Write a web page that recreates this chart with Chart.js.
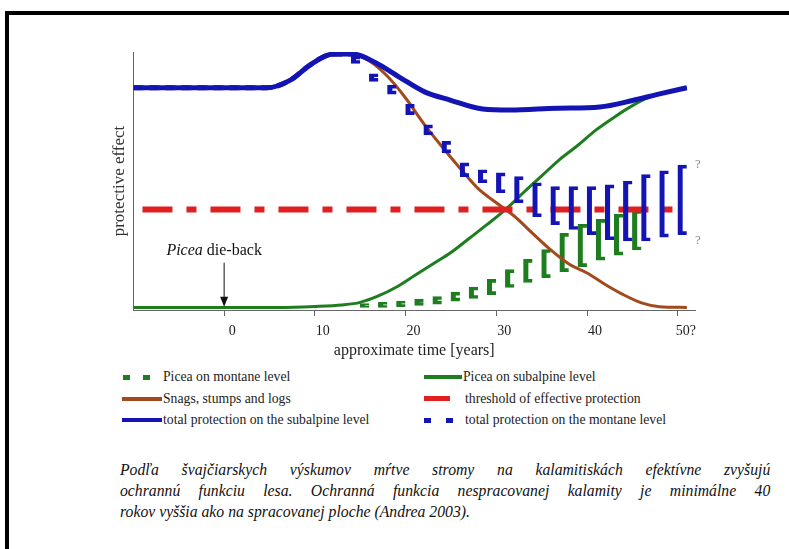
<!DOCTYPE html>
<html>
<head>
<meta charset="utf-8">
<script src="https://cdn.jsdelivr.net/npm/chart.js@4.4.1/dist/chart.umd.min.js"></script>
<style>
  body { margin: 0; width: 789px; height: 549px; background: #fff; overflow: hidden; position: relative; font-family: "Liberation Serif", "DejaVu Serif", serif; }
  #frame { position: absolute; left: 5px; top: 11px; right: -10px; bottom: -10px; border-top: 4px solid #000; border-left: 4px solid #000; }
  #wrap { position: absolute; left: 100px; top: 40px; width: 620px; height: 325px; }
  .lt { position: absolute; font-size: 13.7px; color: #222; line-height: 14px; white-space: nowrap; }
  .sw { position: absolute; }
  .cap { position: absolute; left: 120px; width: 703px; font-size: 17px; font-style: italic; color: #111; white-space: nowrap;
         transform: scaleX(0.925); transform-origin: 0 0; font-family: "Liberation Serif", "DejaVu Serif", serif; }
  .just { text-align: justify; text-align-last: justify; white-space: normal; }
</style>
</head>
<body>
<div id="frame"></div>
<div id="wrap"><canvas id="chart"></canvas></div>

<!-- legend -->
<div class="sw" style="left:123px;top:375px;width:7px;height:5px;background:#1e7d1e"></div>
<div class="sw" style="left:143px;top:375px;width:7px;height:5px;background:#1e7d1e"></div>
<div class="lt" style="left:163px;top:370px">Picea on montane level</div>
<div class="sw" style="left:424px;top:375px;width:38px;height:4px;background:#1e7d1e"></div>
<div class="lt" style="left:463px;top:370px">Picea on subalpine level</div>

<div class="sw" style="left:122px;top:397px;width:40px;height:4px;background:#a24a1e"></div>
<div class="lt" style="left:163px;top:392px">Snags, stumps and logs</div>
<div class="sw" style="left:424px;top:396px;width:26px;height:5px;background:#e02020"></div>
<div class="lt" style="left:465px;top:392px">threshold of effective protection</div>

<div class="sw" style="left:122px;top:418px;width:40px;height:4px;background:#1414b4"></div>
<div class="lt" style="left:163px;top:413px">total protection on the subalpine level</div>
<div class="sw" style="left:424px;top:418px;width:7px;height:5px;background:#1414b4"></div>
<div class="sw" style="left:446px;top:418px;width:7px;height:5px;background:#1414b4"></div>
<div class="lt" style="left:465px;top:413px">total protection on the montane level</div>

<!-- caption -->
<div class="cap just" style="top:460px">Podľa švajčiarskych výskumov mŕtve stromy na kalamitiskách efektívne zvyšujú</div>
<div class="cap just" style="top:481px">ochrannú funkciu lesa. Ochranná funkcia nespracovanej kalamity je minimálne 40</div>
<div class="cap" style="top:502px">rokov vyššia ako na spracovanej ploche (Andrea 2003).</div>

<script>
var SERIF = '"Liberation Serif", "DejaVu Serif", serif';

// x axis ticks
var xTicks = [0, 10, 20, 30, 40, 50];
var xTickLabels = ['0', '10', '20', '30', '40', '50?'];

// total protection on the subalpine level (solid blue)
var subalpineX = [-10, 4.7, 7.3, 9.5, 12, 14.2, 16.6, 19.4, 22.1, 24.9, 28.5, 31.5, 36.7, 41.4, 45, 48, 51];
var subalpineY = [86, 86, 89, 95, 99.2, 99.2, 96, 90, 84.4, 81.2, 77.7, 77.3, 78, 78.5, 81, 83.6, 86];

// snags, stumps and logs (brown)
var snagsX = [-10, 4.7, 7.3, 9.5, 12, 14, 16, 18, 20, 22, 24, 26, 28, 30, 32, 34, 36, 38, 40, 42, 44, 46, 48, 51];
var snagsY = [86, 86, 89, 95, 98.8, 99, 96.5, 90.5, 82, 72, 63, 54.5, 46.5, 41, 35.7, 29, 22.5, 17, 13.5, 9, 5, 1.8, 0.3, 0];

// Picea on subalpine level (solid green)
var piceaSubX = [-10, 6, 10, 13, 15, 17, 19, 21, 23, 25, 27, 29, 31, 33, 35, 37, 39, 41, 43, 45, 47, 49, 51];
var piceaSubY = [0, 0, 0.4, 1, 2, 4.5, 8, 12.5, 17, 21.5, 27, 32.5, 38.3, 45, 51.5, 58, 63.5, 69.5, 74.5, 79, 82.5, 84.5, 86];

// threshold of effective protection (red)
var thresholdX = [-9, 50];
var thresholdY = [38.3, 38.3];

// total protection on the montane level (blue dashes, then ranges)
var montaneLineX = [-10, 4.7, 7.3, 9.5, 12, 14.2];
var montaneLineY = [86, 86, 89, 95, 99.2, 99.2];
var montaneX = [15, 17, 19, 21, 23, 25, 27, 29, 31, 33, 35, 37, 39, 41, 43, 45, 47, 49, 51];
var montaneLow = [95.5, 88.5, 83.5, 75.5, 67.5, 60.5, 51.2, 48.8, 44.9, 41, 35.5, 32.4, 30.5, 28.5, 26.5, 26, 26, 27.5, 28.5];
var montaneHigh = [98.5, 91.5, 87, 79.5, 71.5, 65, 56.6, 53.9, 52.7, 51.2, 48.8, 47.3, 47.3, 47.3, 48, 49.5, 52, 53.5, 55.7];

// Picea on montane level (green dashes / ranges)
var piceaMonX = [15, 17, 19, 21, 23, 25, 27, 29, 31, 33, 35, 37, 39, 41, 43, 45];
var piceaMonLow = [0, 0, 0.3, 0.8, 1.3, 2.5, 3.5, 5, 7.8, 9.8, 11.7, 14, 16, 18.5, 20.5, 22.5];
var piceaMonHigh = [1.5, 2, 2.5, 3.3, 4.3, 6, 8, 11, 14.8, 18.8, 22.7, 29, 32.5, 34.5, 36.5, 38];

// annotations
var dieBack = { x: 0, yFrom: 17.5, yTo: 0.3, labelX: -1.1, labelY: 22 };
var questionMarks = [{ x: 51.9, y: 56 }, { x: 51.9, y: 26 }];

var BLUE = '#1414b4', GREEN = '#1e7d1e', BROWN = '#a24a1e', RED = '#e02020';

function pts(xs, ys) {
  return xs.map(function (x, i) { return { x: x, y: ys[i] }; });
}
function ranges(xs, lo, hi) {
  return xs.map(function (x, i) { return { x: x, y: [lo[i], hi[i]] }; });
}

var annotations = {
  id: 'annotations',
  afterDatasetsDraw: function (chart) {
    var ctx = chart.ctx, xs = chart.scales.x, ys = chart.scales.y;
    ctx.save();
    // die-back arrow
    var ax = xs.getPixelForValue(dieBack.x);
    var y1 = ys.getPixelForValue(dieBack.yFrom), y2 = ys.getPixelForValue(dieBack.yTo);
    ctx.strokeStyle = '#111';
    ctx.fillStyle = '#111';
    ctx.lineWidth = 1;
    ctx.beginPath();
    ctx.moveTo(ax, y1);
    ctx.lineTo(ax, y2 - 8);
    ctx.stroke();
    ctx.beginPath();
    ctx.moveTo(ax - 4, y2 - 10);
    ctx.lineTo(ax + 4, y2 - 10);
    ctx.lineTo(ax, y2);
    ctx.closePath();
    ctx.fill();
    // label, "Picea" in italics
    var lx = xs.getPixelForValue(dieBack.labelX), ly = ys.getPixelForValue(dieBack.labelY);
    ctx.textBaseline = 'middle';
    ctx.font = 'italic 16px ' + SERIF;
    var w1 = ctx.measureText('Picea ').width;
    ctx.font = '16px ' + SERIF;
    var w2 = ctx.measureText('die-back').width;
    var sx = lx - (w1 + w2) / 2;
    ctx.textAlign = 'left';
    ctx.font = 'italic 16px ' + SERIF;
    ctx.fillText('Picea ', sx, ly);
    ctx.font = '16px ' + SERIF;
    ctx.fillText('die-back', sx + w1, ly);
    // question marks
    ctx.fillStyle = '#888';
    ctx.font = '13px ' + SERIF;
    questionMarks.forEach(function (q) {
      ctx.fillText('?', xs.getPixelForValue(q.x), ys.getPixelForValue(q.y));
    });
    ctx.restore();
  }
};

var ctx = document.getElementById('chart').getContext('2d');

var myChart = new Chart(ctx, {
  type: 'line',
  data: {
    datasets: [
      {
        label: 'total protection on the subalpine level',
        data: pts(subalpineX, subalpineY),
        borderColor: BLUE, borderWidth: 5, order: 1
      },
      {
        label: 'total protection on the montane level',
        data: pts(montaneLineX, montaneLineY),
        borderColor: BLUE, borderWidth: 5, borderDash: [10, 6], order: 2
      },
      {
        type: 'bar',
        label: 'total protection on the montane level (range)',
        data: ranges(montaneX, montaneLow, montaneHigh),
        backgroundColor: 'rgba(0,0,0,0)', borderColor: BLUE,
        borderWidth: { left: 5, top: 3, bottom: 3, right: 0 }, borderSkipped: false,
        barThickness: 9, order: 3
      },
      {
        label: 'threshold of effective protection',
        data: pts(thresholdX, thresholdY),
        borderColor: RED, borderWidth: 6, borderDash: [30, 14, 10, 14], tension: 0, order: 4
      },
      {
        label: 'Snags, stumps and logs',
        data: pts(snagsX, snagsY),
        borderColor: BROWN, borderWidth: 3, order: 5
      },
      {
        label: 'Picea on subalpine level',
        data: pts(piceaSubX, piceaSubY),
        borderColor: GREEN, borderWidth: 3, order: 6
      },
      {
        type: 'bar',
        label: 'Picea on montane level',
        data: ranges(piceaMonX, piceaMonLow, piceaMonHigh),
        backgroundColor: 'rgba(0,0,0,0)', borderColor: GREEN,
        borderWidth: { left: 5, top: 3, bottom: 3, right: 0 }, borderSkipped: false,
        barThickness: 9, order: 7
      }
    ]
  },
  options: {
    responsive: true,
    maintainAspectRatio: false,
    animation: false,
    layout: { padding: { left: 5, right: 25, top: 12, bottom: 1 } },
    elements: {
      point: { radius: 0 },
      line: { cubicInterpolationMode: 'monotone', fill: false }
    },
    plugins: { legend: { display: false }, tooltip: { enabled: false } },
    scales: {
      x: {
        type: 'linear', min: -10, max: 51.9, offset: false,
        afterBuildTicks: function (axis) {
          axis.ticks = xTicks.map(function (v) { return { value: v }; });
        },
        ticks: {
          color: '#222', padding: 7, labelOffset: 8, maxRotation: 0,
          font: { family: SERIF, size: 14 },
          callback: function (v) { return xTickLabels[xTicks.indexOf(v)]; }
        },
        grid: { drawOnChartArea: false, drawTicks: true, tickLength: 6, color: '#666', offset: false },
        border: { color: '#666', width: 1 },
        title: {
          display: true, text: 'approximate time [years]', color: '#222',
          font: { family: SERIF, size: 16 }, padding: { top: -6, bottom: 4 }
        }
      },
      y: {
        min: -1, max: 100,
        ticks: { display: false },
        grid: { display: false, drawTicks: false },
        border: { color: '#666', width: 1 },
        title: {
          display: true, text: 'protective effect', color: '#333',
          font: { family: SERIF, size: 17 }, padding: { top: 4, bottom: 4 }
        }
      }
    }
  },
  plugins: [annotations]
});
</script>
</body>
</html>
